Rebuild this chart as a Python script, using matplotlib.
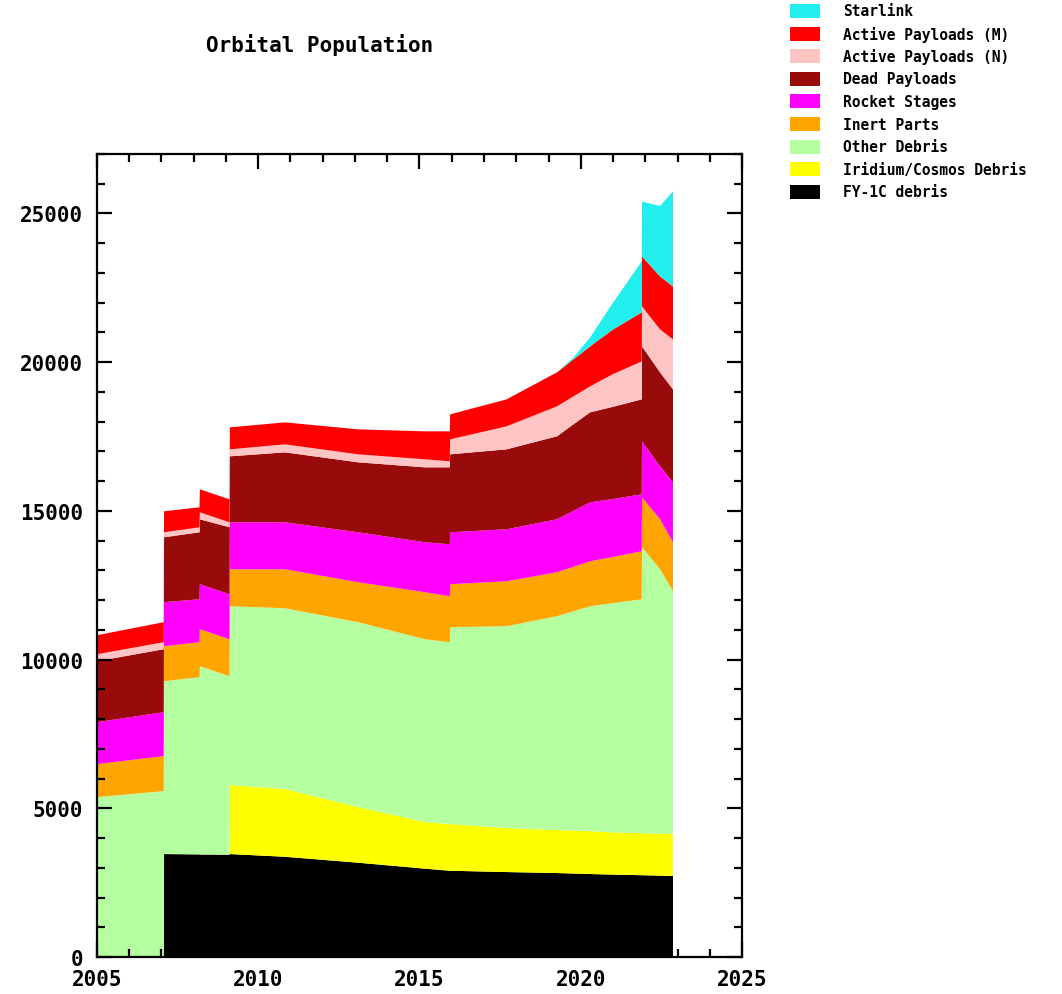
import matplotlib
matplotlib.use("Agg")
import matplotlib.pyplot as plt
from matplotlib.patches import Rectangle
from matplotlib.ticker import MultipleLocator
import numpy as np

# time points (years); repeated neighbours mark the catalogue jumps
years = [2005.00, 2007.07, 2007.08, 2008.18, 2008.19, 2009.11, 2009.12, 2010.83,
         2013.10, 2015.17, 2015.94, 2015.95, 2017.70, 2019.26, 2019.76, 2020.29,
         2021.00, 2021.89, 2021.90, 2022.46, 2022.86]

# layer thickness values (objects), bottom to top
fy1c_debris     = [0, 0, 3461, 3450, 3445, 3440, 3461, 3370, 3170, 2970, 2900, 2900,
                   2856, 2823, 2807, 2790, 2770, 2750, 2750, 2735, 2722]
iridium_cosmos  = [0, 0, 0, 0, 0, 0, 2319, 2280, 1870, 1566, 1570, 1570,
                   1479, 1447, 1444, 1440, 1420, 1410, 1410, 1410, 1411]
other_debris    = [5376, 5578, 5813, 5959, 6333, 6002, 6014, 6077, 6217, 6149, 6115, 6619,
                   6787, 7188, 7370, 7564, 7710, 7870, 9617, 8893, 8165]
inert_parts     = [1109, 1176, 1176, 1176, 1244, 1243, 1244, 1311, 1344, 1580, 1546, 1445,
                   1512, 1479, 1495, 1512, 1550, 1612, 1680, 1680, 1647]
rocket_stages   = [1411, 1478, 1479, 1445, 1512, 1513, 1579, 1579, 1680, 1680, 1747, 1747,
                   1748, 1781, 1880, 1983, 1950, 1916, 1882, 1781, 2016]
dead_payloads   = [2050, 2117, 2184, 2251, 2184, 2251, 2218, 2352, 2352, 2520, 2587, 2621,
                   2688, 2789, 2905, 3024, 3100, 3192, 3192, 3158, 3125]
active_n        = [235, 236, 168, 168, 235, 168, 235, 269, 269, 269, 202, 504,
                   773, 1008, 940, 874, 1100, 1277, 1344, 1445, 1680]
active_m        = [639, 672, 706, 672, 773, 773, 739, 739, 840, 941, 1008, 840,
                   907, 1142, 1240, 1344, 1500, 1646, 1680, 1781, 1781]
starlink        = [0, 0, 0, 0, 0, 0, 0, 0, 0, 0, 0, 0,
                   0, 0, 60, 300, 900, 1714, 1845, 2370, 3200]

layer_names = ["FY-1C debris", "Iridium/Cosmos Debris", "Other Debris", "Inert Parts",
               "Rocket Stages", "Dead Payloads", "Active Payloads (N)",
               "Active Payloads (M)", "Starlink"]
layer_colors = ["#000000", "#FFFF00", "#B5FFA0", "#FFA500", "#FF00FF", "#990B0B",
                "#FFC4C4", "#FF0000", "#22EEEE"]

fig = plt.figure(figsize=(10.62, 9.95), dpi=100)
ax = fig.add_axes([0.0913, 0.0372, 0.6074, 0.8070])

ax.stackplot(years, fy1c_debris, iridium_cosmos, other_debris, inert_parts,
             rocket_stages, dead_payloads, active_n, active_m, starlink,
             colors=layer_colors, linewidth=0, edgecolor="none")

ax.set_xlim(2005, 2025)
ax.set_ylim(0, 27000)
ax.xaxis.set_major_locator(MultipleLocator(5))
ax.xaxis.set_minor_locator(MultipleLocator(1))
ax.yaxis.set_major_locator(MultipleLocator(5000))
ax.yaxis.set_minor_locator(MultipleLocator(1000))
ax.tick_params(which="both", direction="in", top=True, right=True, width=1.6,
               color="black")
ax.tick_params(which="major", length=11)
ax.tick_params(which="minor", length=6)
ax.tick_params(axis="y", pad=10)
ax.tick_params(axis="x", pad=9)
for lab in ax.get_xticklabels() + ax.get_yticklabels():
    lab.set_family("DejaVu Sans Mono")
    lab.set_fontweight("bold")
    lab.set_fontsize(15)
for s in ax.spines.values():
    s.set_linewidth(1.6)
    s.set_color("black")

fig.text(320 / 1062, 1 - 45 / 995, "Orbital Population", ha="center", va="center",
         family="DejaVu Sans Mono", fontweight="bold", fontsize=15)

# legend (top to bottom)
W, H = 1062, 995
for i, (name, col) in enumerate(zip(layer_names[::-1], layer_colors[::-1])):
    yc = 12 + i * 22.6
    fig.add_artist(Rectangle((790 / W, 1 - (yc + 7) / H), 30 / W, 14 / H,
                             transform=fig.transFigure, facecolor=col,
                             edgecolor="none"))
    fig.text(843 / W, 1 - yc / H, name, ha="left", va="center",
             family="DejaVu Sans Mono", fontweight="bold", fontsize=10.5)

fig.savefig("out.png", dpi=100)
